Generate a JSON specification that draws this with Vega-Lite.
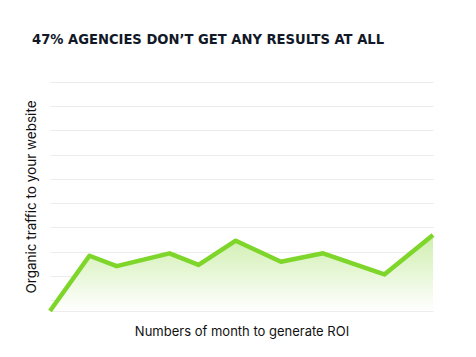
{
  "$schema": "https://vega.github.io/schema/vega-lite/v6.json",
  "width": 383,
  "height": 229,
  "autosize": {"type": "none"},
  "padding": {"left": 50, "top": 82, "right": 43, "bottom": 46},
  "background": "white",
  "title": {
    "text": "47% AGENCIES DON’T GET ANY RESULTS AT ALL",
    "anchor": "start",
    "frame": "group",
    "dx": -18,
    "offset": 35,
    "font": "DejaVu Sans Condensed",
    "fontWeight": "bold",
    "fontSize": 14.6,
    "color": "#111827"
  },
  "config": {
    "view": {"stroke": null},
    "axis": {"labelFont": "Inter", "titleFont": "Inter"}
  },
  "data": {
    "values": [
      {"month": 0, "traffic": -0.45},
      {"month": 10.3, "traffic": 1.83},
      {"month": 17.4, "traffic": 1.4},
      {"month": 31.2, "traffic": 1.93},
      {"month": 38.8, "traffic": 1.45},
      {"month": 48.5, "traffic": 2.45},
      {"month": 60.3, "traffic": 1.58},
      {"month": 71.3, "traffic": 1.93},
      {"month": 87.3, "traffic": 1.06},
      {"month": 100, "traffic": 2.69}
    ]
  },
  "encoding": {
    "x": {
      "field": "month",
      "type": "quantitative",
      "scale": {"domain": [0, 100], "nice": false, "zero": false},
      "axis": {
        "title": "Numbers of month to generate ROI",
        "labels": false, "ticks": false, "domain": false, "grid": false,
        "titleFontSize": 13, "titleFontWeight": "normal", "titleColor": "#111111",
        "titlePadding": 14
      }
    },
    "y": {
      "field": "traffic",
      "type": "quantitative",
      "scale": {"domain": [-0.45, 9], "nice": false, "zero": false},
      "axis": {
        "title": "Organic traffic to your website",
        "values": [-0.45, 0, 1, 2, 3, 4, 5, 6, 7, 8, 9],
        "labels": false, "ticks": false, "domain": false, "grid": true,
        "gridColor": "#ececec", "gridWidth": 1,
        "titleFontSize": 13.5, "titleFontWeight": "normal", "titleColor": "#111111",
        "titlePadding": 12
      }
    }
  },
  "layer": [
    {
      "mark": {
        "type": "area",
        "color": {
          "gradient": "linear",
          "x1": 0, "y1": 0, "x2": 0, "y2": 1,
          "stops": [
            {"offset": 0, "color": "#cfeeae"},
            {"offset": 1, "color": "#ffffff"}
          ]
        }
      },
      "encoding": {"y2": {"datum": -0.45}}
    },
    {
      "mark": {"type": "line", "color": "#7fd62a", "strokeWidth": 4.5, "strokeJoin": "round", "strokeCap": "butt"}
    }
  ]
}
